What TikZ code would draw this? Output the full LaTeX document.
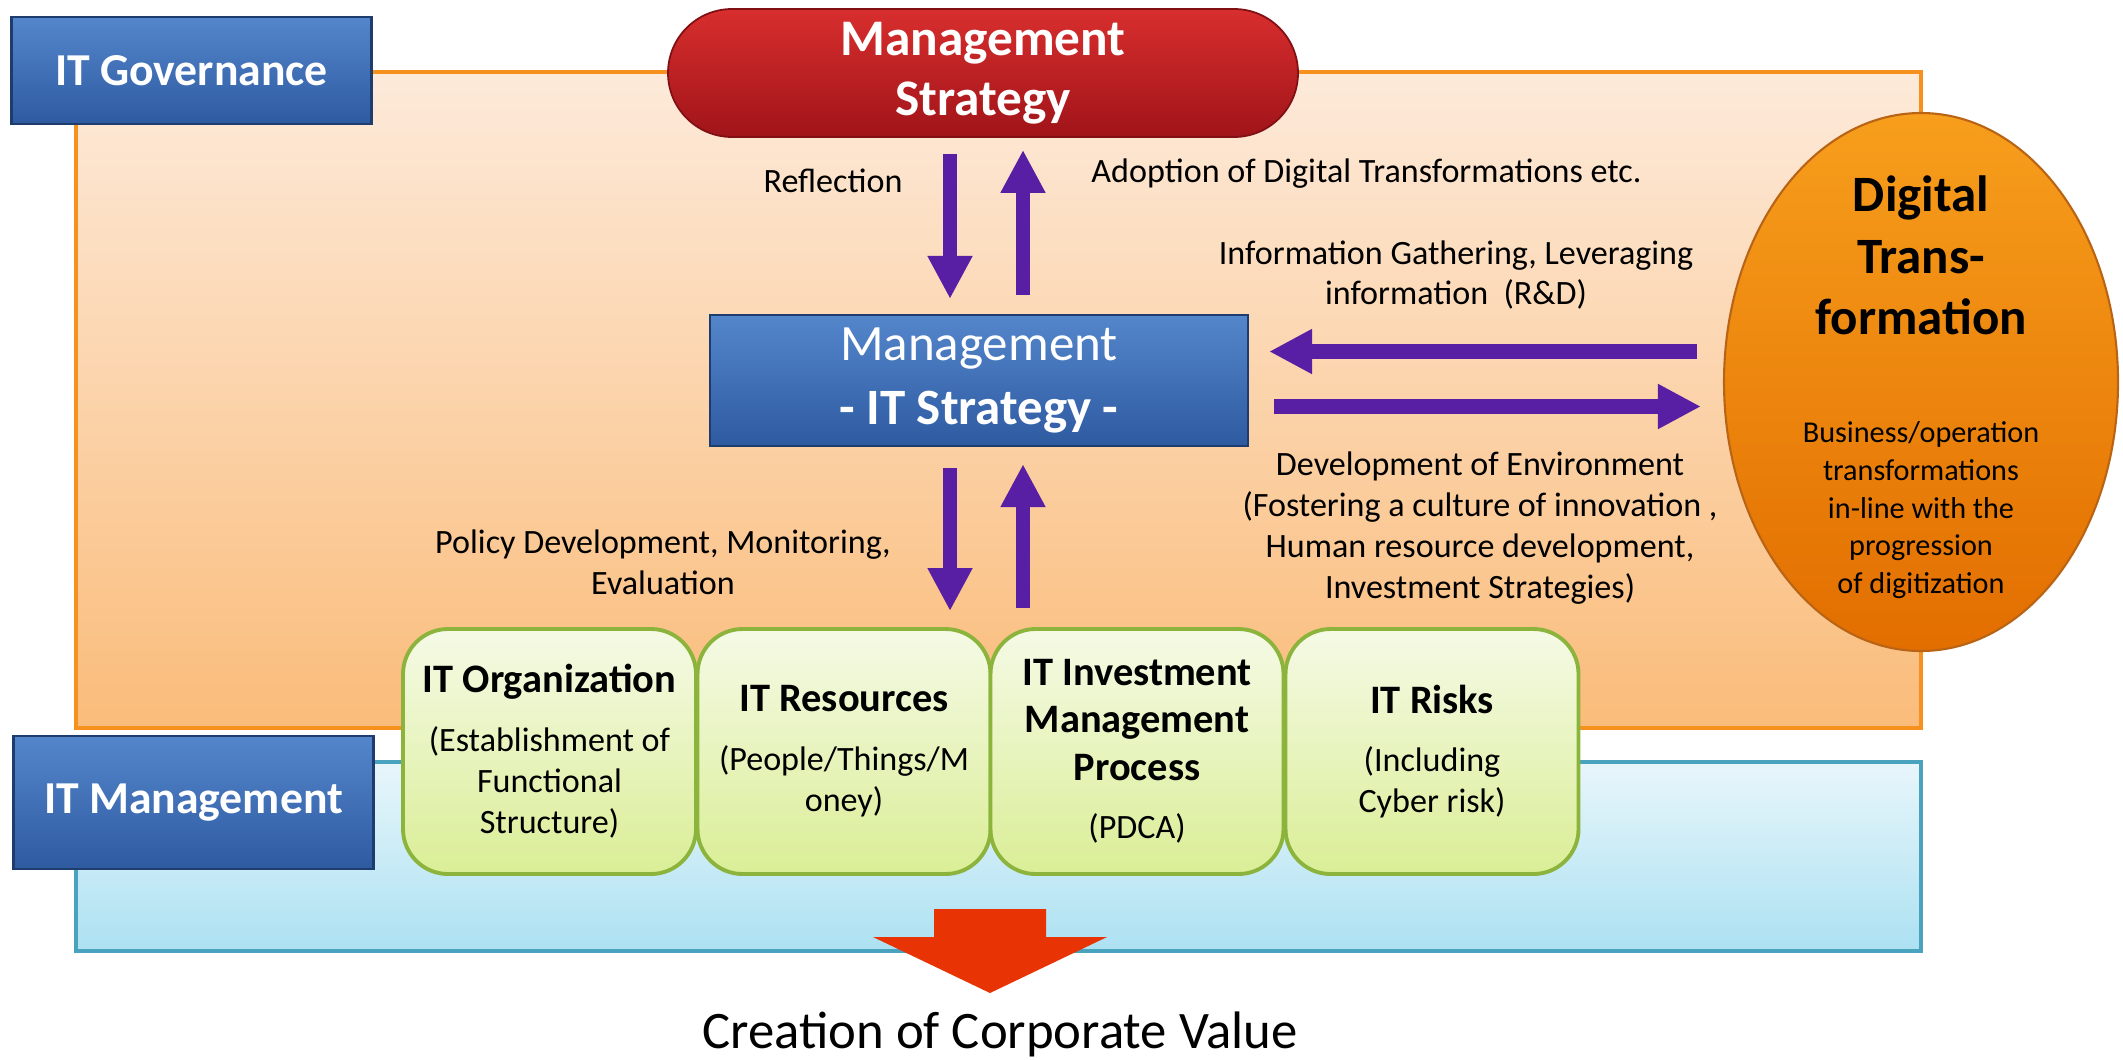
\documentclass[tikz,border=0pt]{standalone}
\usepackage{fontspec}
\setmainfont{Carlito}
\usepackage{xcolor}
\usetikzlibrary{positioning, arrows.meta, shapes.geometric}

\definecolor{flowpurple}{RGB}{88,30,164}
\definecolor{govtop}{RGB}{253,234,218}
\definecolor{govbot}{RGB}{250,188,122}
\definecolor{govedge}{RGB}{246,145,30}
\definecolor{mgtop}{RGB}{232,246,251}
\definecolor{mgbot}{RGB}{172,225,242}
\definecolor{mgedge}{RGB}{74,163,190}
\definecolor{unittop}{RGB}{245,250,230}
\definecolor{unitbot}{RGB}{218,238,150}
\definecolor{unitedge}{RGB}{140,180,60}
\definecolor{tagtop}{RGB}{84,134,204}
\definecolor{tagbot}{RGB}{46,90,160}
\definecolor{tagedge}{RGB}{30,60,110}
\definecolor{strattop}{RGB}{216,46,46}
\definecolor{stratbot}{RGB}{160,20,25}
\definecolor{dxtop}{RGB}{247,158,28}
\definecolor{dxbot}{RGB}{226,110,0}
\definecolor{dxedge}{RGB}{185,100,20}
\definecolor{valuered}{RGB}{232,52,5}

\newcommand{\unithead}{\fontsize{11.5}{13.4}\selectfont\bfseries}

\begin{document}
\begin{tikzpicture}[
        >={Triangle[width=4.2mm, length=4.3mm]},
        flow/.style={->, line width=1.45mm, draw=flowpurple},
        label/.style={font=\fontsize{9.7}{11.6}\selectfont, align=center},
        tag/.style={rectangle, draw=tagedge, line width=0.6pt, top color=tagtop, bottom color=tagbot,
            text=white, font=\fontsize{13}{15}\selectfont\bfseries, minimum width=3.6cm},
        unit/.style={rectangle, rounded corners=0.45cm, draw=unitedge, line width=1.1pt,
            top color=unittop, bottom color=unitbot, minimum width=2.93cm, minimum height=2.45cm,
            text width=2.8cm, align=flush center, inner sep=0pt, font=\fontsize{9.7}{11.7}\selectfont}
    ]
        \useasboundingbox (0,0) rectangle (21.23,-10.59);

        % governance and management bands
        \draw[govedge, line width=1.1pt, top color=govtop, bottom color=govbot]
            (0.76,-0.72) rectangle (19.21,-7.28);
        \draw[mgedge, line width=1.1pt, top color=mgtop, bottom color=mgbot]
            (0.76,-7.62) rectangle (19.21,-9.51);

        \node[tag, minimum height=1.07cm] (gov) at (1.915,-0.705) {IT Governance};
        \node[tag, minimum height=1.33cm] (mgt) at (1.935,-8.025) {IT Management};

        % strategy boxes
        \node[rectangle, rounded corners=0.64cm, minimum width=6.3cm, minimum height=1.28cm,
            top color=strattop, bottom color=stratbot, draw=stratbot!80!black, line width=0.5pt,
            text=white, font=\fontsize{14.6}{17}\selectfont\bfseries, align=center]
            (strat) at (9.83,-0.73) {Management\\Strategy};
        \node[tag, minimum width=5.38cm, minimum height=1.31cm, align=center,
            font=\fontsize{14.5}{18}\selectfont]
            (itstrat) at (9.79,-3.805) {Management\\\textbf{- IT Strategy -}};

        \node[ellipse, minimum width=3.94cm, minimum height=5.38cm, inner sep=0pt,
            top color=dxtop, bottom color=dxbot, draw=dxedge, line width=0.6pt]
            (dx) at (19.21,-3.82) {};
        \node[text width=3.5cm, align=flush center, font=\fontsize{8.6}{10.7}\selectfont]
            (dxtext) at ([yshift=-0.05cm]dx.center)
            {{\fontsize{14.5}{17.6}\selectfont\bfseries Digital\\Trans-\\formation\par}
             \vskip 20pt
             Business/operation\\transformations\\in-line with the\\progression\\of digitization};

        % IT management units
        \node[unit] (org)  at (5.495,-7.515) {{\unithead IT Organization\par}\vskip 5pt
            (Establishment of\\Functional\\Structure)};
        \node[unit] (res)  at (8.44,-7.515)  {{\unithead IT Resources\par}\vskip 5pt
            (People/Things/M\\oney)};
        \node[unit] (inv)  at (11.37,-7.515) {{\unithead IT Investment\\Management\\Process\par}\vskip 5pt
            (PDCA)};
        \node[unit] (risk) at (14.32,-7.515) {{\unithead IT Risks\par}\vskip 5pt
            (Including\\Cyber risk)};

        % flows
        \draw[flow, shorten <=0.16cm, shorten >=0.15cm]
            ([xshift=-0.33cm]strat.south) -- ([xshift=-0.33cm]strat.south |- itstrat.north);
        \draw[flow, shorten <=0.19cm, shorten >=0.12cm]
            ([xshift=0.40cm]strat.south |- itstrat.north) -- ([xshift=0.40cm]strat.south);
        \draw[flow, shorten <=0.21cm, shorten >=0.16cm]
            ([xshift=-0.33cm]strat.south |- itstrat.south) -- ([xshift=-0.33cm]strat.south |- res.north);
        \draw[flow, shorten <=0.19cm, shorten >=0.17cm]
            ([xshift=0.40cm]strat.south |- inv.north) -- ([xshift=0.40cm]strat.south |- itstrat.south);
        \draw[flow, shorten <=0.26cm, shorten >=0.2cm]
            ([yshift=0.29cm]itstrat.east -| dx.west) -- ([yshift=0.29cm]itstrat.east);
        \draw[flow, shorten <=0.25cm, shorten >=0.22cm]
            ([yshift=-0.26cm]itstrat.east) -- ([yshift=-0.26cm]itstrat.east -| dx.west);

        \node[label] (refl) at (8.33,-1.81) {Reflection};
        \node[label, anchor=west] (adopt) at (10.79,-1.74) {Adoption of Digital Transformations etc.};
        \node[label] (gather) at (14.56,-2.75) {Information Gathering, Leveraging\\information \ (R\&D)};
        \node[label] (envdev) at (14.80,-5.28) {Development of Environment\\(Fostering a culture of innovation ,\\Human resource development,\\Investment Strategies)};
        \node[label] (policy) at (6.63,-5.62) {Policy Development, Monitoring,\\Evaluation};

        % result
        \fill[valuered] (9.34,-9.09) -- (10.46,-9.09) -- (10.46,-9.37) -- (11.07,-9.37)
            -- (9.90,-9.93) -- (8.73,-9.37) -- (9.34,-9.37) -- cycle;
        \node[anchor=base, font=\fontsize{15}{18}\selectfont] (value) at (10.0,-10.48)
            {Creation of Corporate Value};
    \end{tikzpicture}
\end{document}
